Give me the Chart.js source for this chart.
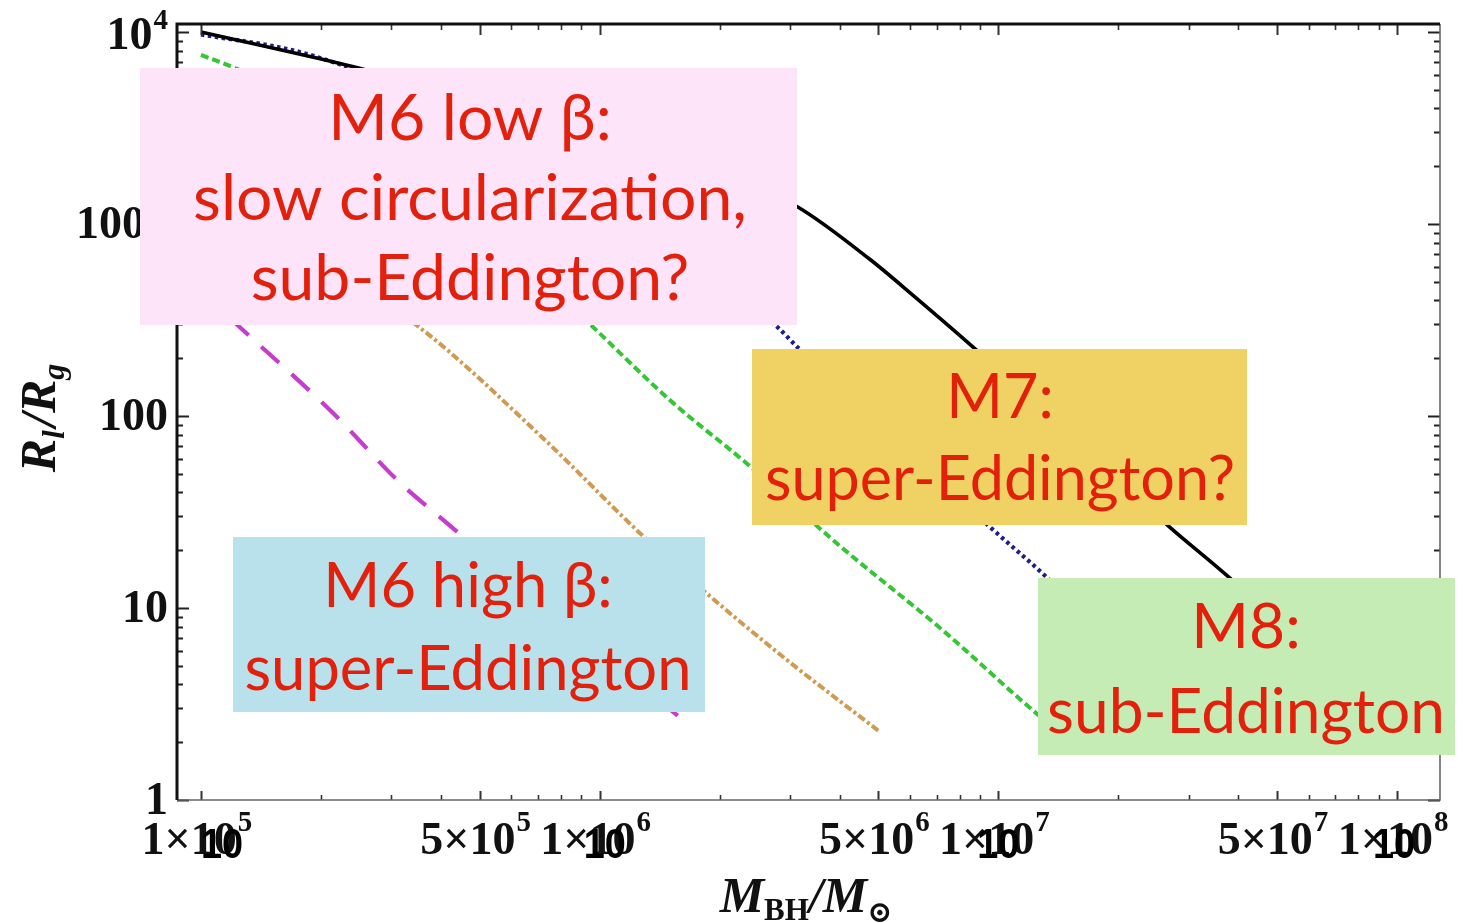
<!DOCTYPE html>
<html>
<head>
<meta charset="utf-8">
<script src="https://cdn.jsdelivr.net/npm/chart.js@4.4.1/dist/chart.umd.min.js"></script>
<style>
  html, body { margin: 0; padding: 0; background: #ffffff; }
  #wrap { width: 1466px; height: 923px; }
</style>
</head>
<body>
<div id="wrap"><canvas id="chart" width="1466" height="923"></canvas></div>
<script>
// Black hole mass M_BH / M_sun and radius R_l / R_g along each curve
const massSolid   = [1.00e5, 2.05e5, 3.12e5, 7.94e5, 1.79e6, 3.14e6, 4.76e6, 6.11e6, 8.63e6, 1.51e7, 2.69e7, 3.81e7, 5.70e7];
const radiusSolid = [10000, 7140, 5760, 3565, 2100, 1226, 655, 425, 229, 79.6, 26.4, 14.3, 6.42];

const massDotted   = [1.00e5, 1.69e5, 2.30e5, 5.62e5, 1.34e6, 2.79e6, 3.13e6, 5.35e6, 9.53e6, 1.32e7, 1.91e7];
const radiusDotted = [9700, 8060, 6650, 3480, 1050, 291, 229, 79.6, 26.4, 14.5, 6.81];

const massDashed   = [1.00e5, 1.20e5, 2.37e5, 4.73e5, 9.62e5, 1.50e6, 2.38e6, 3.51e6, 4.17e6, 7.14e6, 1.26e7, 1.51e7];
const radiusDashed = [7590, 6570, 3480, 1183, 291, 121, 54.9, 26.7, 19.6, 7.87, 2.77, 2.05];

const massDashDot   = [1.00e5, 1.77e5, 3.52e5, 7.29e5, 1.26e6, 1.84e6, 2.95e6, 5.05e6];
const radiusDashDot = [1695, 732, 291, 75.0, 24.6, 12.1, 5.36, 2.26];

const massLongDash   = [1.00e5, 1.25e5, 2.14e5, 3.16e5, 4.14e5, 7.94e5, 1.62e6];
const radiusLongDash = [448, 291, 104, 44.8, 27.7, 8.66, 2.61];

// Axis ticks
const xTickValues = [1e5, 5e5, 1e6, 5e6, 1e7, 5e7, 1e8];
const xTickLabels = ['1×10^5', '5×10^5', '1×10^6', '5×10^6', '1×10^7', '5×10^7', '1×10^8'];
const xOverlayValues = [1e5, 1e6, 1e7, 1e8];
const xOverlayLabels = ['10', '10', '10', '10'];
const yTickValues = [1, 10, 100, 1000, 10000];
const yTickLabels = ['1', '10', '100', '1000', '10^4'];

// Annotation boxes
const noteLines = [
  ['M6 low β:', 'slow circularization,', 'sub-Eddington?'],
  ['M7:', 'super-Eddington?'],
  ['M6 high β:', 'super-Eddington'],
  ['M8:', 'sub-Eddington']
];

// ---- layout and style (pixels) ----
const NOTE_STYLE = [
  { x: 140,  y: 68,  w: 657, h: 257, fill: '#fde4f8', cx: 470,  baselines: [140, 220, 300], width: 554 },
  { x: 752,  y: 349, w: 495, h: 176, fill: '#f0d264', cx: 1000, baselines: [418, 500],      width: 470 },
  { x: 233,  y: 537, w: 472, h: 175, fill: '#b9e1eb', cx: 468,  baselines: [607, 690],      width: 447 },
  { x: 1038, y: 578, w: 417, h: 177, fill: '#c5ecb5', cx: 1246, baselines: [648, 733],      width: 398 }
];
const NOTE_COLOR = '#e2200c';
const NOTE_FONT = 'Lato, "Open Sans", sans-serif';
const OVERLAY_SHIFT = [0, -16, -21, -24];
const SERIF = '"Liberation Serif", "DejaVu Serif", serif';

function toPoints(xs, ys) {
  return xs.map((v, i) => ({ x: v, y: ys[i] }));
}

function splitSup(label) {
  const i = label.indexOf('^');
  return i < 0 ? [label, ''] : [label.slice(0, i), label.slice(i + 1)];
}

// Draw "base^sup" text; align 'center' or 'right' at x
function drawSupText(ctx, label, x, y, align, baseFont, supFont, raise) {
  const [base, sup] = splitSup(label);
  ctx.font = baseFont;
  const wb = ctx.measureText(base).width;
  ctx.font = supFont;
  const ws = sup ? ctx.measureText(sup).width + 1 : 0;
  const total = wb + ws;
  const left = align === 'center' ? x - total / 2 : x - total;
  ctx.textAlign = 'left';
  ctx.textBaseline = 'alphabetic';
  ctx.font = baseFont;
  ctx.fillText(base, left, y);
  if (sup) {
    ctx.font = supFont;
    ctx.fillText(sup, left + wb + 1, y - raise);
  }
}

// Draw a run of pieces [{t, font, dy}] starting at x
function runWidth(ctx, pieces) {
  let w = 0;
  for (const p of pieces) { ctx.font = p.font; w += ctx.measureText(p.t).width + (p.gap || 0); }
  return w;
}
function drawRun(ctx, pieces, x, y) {
  let cx = x;
  for (const p of pieces) {
    ctx.font = p.font;
    ctx.fillText(p.t, cx, y + (p.dy || 0));
    cx += ctx.measureText(p.t).width + (p.gap || 0);
  }
}

const frameAxes = {
  id: 'frameAxes',
  afterDraw(chart) {
    const { ctx, chartArea: a, scales: { x, y } } = chart;
    ctx.save();

    // minor / major ticks, pointing inward on all four sides
    ctx.lineCap = 'butt';
    for (let d = 5; d <= 8; d++) {
      for (let m = 1; m <= 9; m++) {
        const v = m * Math.pow(10, d);
        if (v < x.min || v > x.max) continue;
        const px = Math.round(x.getPixelForValue(v)) + 0.5;
        const major = (m === 1 || m === 5);
        ctx.strokeStyle = '#333';
        ctx.lineWidth = major ? 2 : 1.6;
        ctx.beginPath();
        ctx.moveTo(px, a.bottom); ctx.lineTo(px, a.bottom - (major ? 9 : 5));
        ctx.moveTo(px, a.top); ctx.lineTo(px, a.top + (major ? 11 : 6));
        ctx.stroke();
      }
    }
    for (let d = 0; d <= 4; d++) {
      for (let m = 1; m <= 9; m++) {
        const v = m * Math.pow(10, d);
        if (v < y.min || v > y.max) continue;
        const py = Math.round(y.getPixelForValue(v)) + 0.5;
        const major = m === 1;
        ctx.strokeStyle = '#222';
        ctx.lineWidth = 2;
        ctx.beginPath();
        ctx.moveTo(a.left, py); ctx.lineTo(a.left + (major ? 12 : 6), py);
        ctx.moveTo(a.right, py); ctx.lineTo(a.right - (major ? 12 : 6), py);
        ctx.stroke();
      }
    }

    // frame
    ctx.strokeStyle = '#666';
    ctx.lineWidth = 1.6;
    ctx.beginPath();
    ctx.moveTo(a.left, a.bottom); ctx.lineTo(a.right, a.bottom); ctx.lineTo(a.right, a.top);
    ctx.stroke();
    ctx.strokeStyle = '#111';
    ctx.lineWidth = 3;
    ctx.beginPath();
    ctx.moveTo(a.left, a.bottom); ctx.lineTo(a.left, a.top); ctx.lineTo(a.right, a.top);
    ctx.stroke();

    // tick labels
    ctx.fillStyle = '#111';
    const tickFont = 'bold 46px ' + SERIF;
    const supFont = 'bold 29px ' + SERIF;
    xTickValues.forEach((v, i) => {
      drawSupText(ctx, xTickLabels[i], x.getPixelForValue(v) - 4, 854, 'center', tickFont, supFont, 23);
    });
    ctx.fillStyle = '#000';
    xOverlayValues.forEach((v, i) => {
      ctx.save();
      ctx.translate(x.getPixelForValue(v) + OVERLAY_SHIFT[i], 858);
      ctx.scale(0.9, 1);
      ctx.font = 'bold 42px "Liberation Sans", Arimo, sans-serif';
      ctx.textAlign = 'left';
      ctx.textBaseline = 'alphabetic';
      ctx.fillText(xOverlayLabels[i], 0, 0);
      ctx.restore();
    });
    ctx.fillStyle = '#111';
    yTickValues.forEach((v, i) => {
      const py = y.getPixelForValue(v);
      drawSupText(ctx, yTickLabels[i], 168, py + (v === 10000 ? 17 : 14), 'right', tickFont, supFont, 20);
    });

    // axis titles
    ctx.textAlign = 'left';
    ctx.textBaseline = 'alphabetic';
    const big = 'italic bold 50px ' + SERIF;
    const sub = 'italic bold 32px ' + SERIF;
    const yTitle = [
      { t: 'R', font: big }, { t: 'l', font: sub, dy: 9, gap: 3 },
      { t: '/', font: big }, { t: 'R', font: big }, { t: 'g', font: sub, dy: 9 }
    ];
    ctx.save();
    ctx.translate(55, 418);
    ctx.rotate(-Math.PI / 2);
    drawRun(ctx, yTitle, -runWidth(ctx, yTitle) / 2, 0);
    ctx.restore();

    const xTitle = [
      { t: 'M', font: big }, { t: 'BH', font: 'bold 31px ' + SERIF, dy: 8 },
      { t: '/', font: big }, { t: 'M', font: big }, { t: '⊙', font: 'bold 30px "DejaVu Serif", serif', dy: 10 }
    ];
    drawRun(ctx, xTitle, 806 - runWidth(ctx, xTitle) / 2, 912);

    // annotation boxes over the plot
    NOTE_STYLE.forEach((s, k) => {
      ctx.fillStyle = s.fill;
      ctx.fillRect(s.x, s.y, s.w, s.h);
      const lines = noteLines[k];
      ctx.font = '100px ' + NOTE_FONT;
      const widest = Math.max(...lines.map(t => ctx.measureText(t).width));
      const size = 100 * s.width / widest;
      ctx.font = size.toFixed(1) + 'px ' + NOTE_FONT;
      ctx.fillStyle = NOTE_COLOR;
      ctx.textAlign = 'center';
      ctx.textBaseline = 'alphabetic';
      lines.forEach((t, j) => ctx.fillText(t, s.cx, s.baselines[j]));
    });

    ctx.restore();
  }
};

new Chart(document.getElementById('chart').getContext('2d'), {
  type: 'line',
  data: {
    datasets: [
      { data: toPoints(massSolid, radiusSolid), borderColor: '#000000', borderWidth: 3.6 },
      { data: toPoints(massDotted, radiusDotted), borderColor: '#1e1e88', borderWidth: 4.2, borderDash: [3.5, 3.5] },
      { data: toPoints(massDashed, radiusDashed), borderColor: '#35c635', borderWidth: 4, borderDash: [8, 4] },
      { data: toPoints(massDashDot, radiusDashDot), borderColor: '#cf9a52', borderWidth: 4, borderDash: [8, 3, 3, 3] },
      { data: toPoints(massLongDash, radiusLongDash), borderColor: '#c63ccf', borderWidth: 4.2, borderDash: [24, 17] }
    ]
  },
  options: {
    responsive: false,
    animation: false,
    devicePixelRatio: 1,
    layout: { padding: { left: 177, top: 24, right: 26, bottom: 123 } },
    plugins: { legend: { display: false }, tooltip: { enabled: false } },
    elements: { point: { radius: 0 }, line: { cubicInterpolationMode: 'monotone', fill: false, borderCapStyle: 'butt' } },
    scales: {
      x: { type: 'logarithmic', min: 8.707e4, max: 1.2817e8, display: false },
      y: { type: 'logarithmic', min: 1, max: 1.1007e4, display: false }
    }
  },
  plugins: [frameAxes]
});
</script>
</body>
</html>
